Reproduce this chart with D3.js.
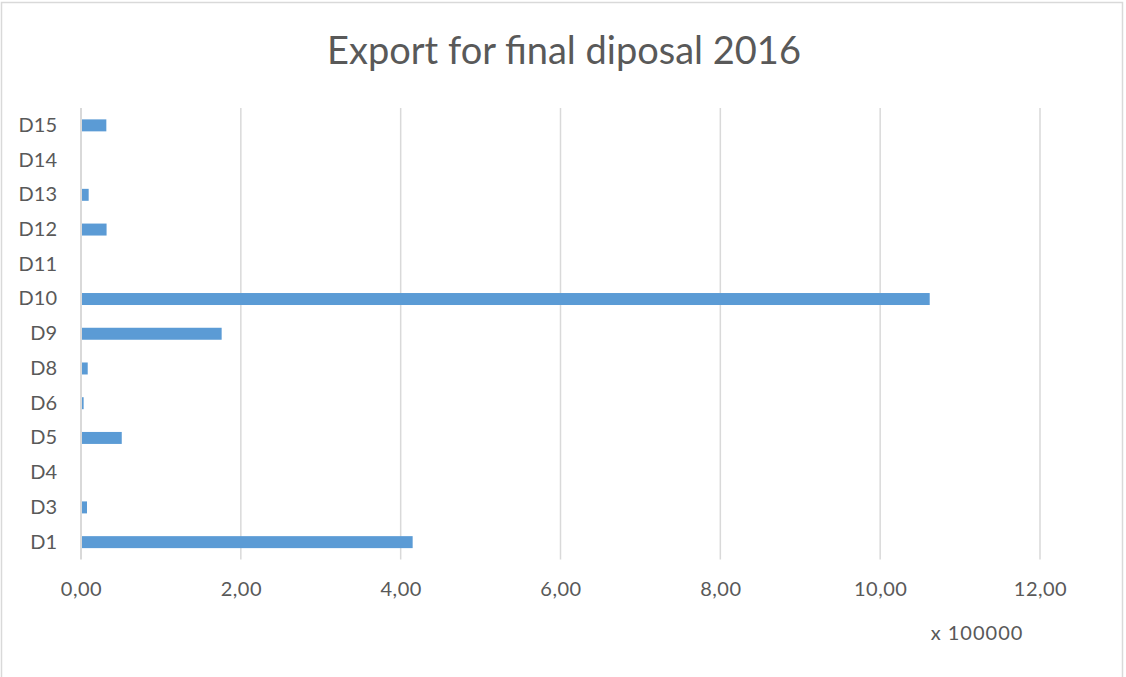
<!DOCTYPE html>
<html>
  <head>
    <style>
      body { margin: 0; background: #fff; }
      text { font-family: Lato, "Open Sans", sans-serif; fill: #595959; }
    </style>
    <script src="https://cdnjs.cloudflare.com/ajax/libs/d3/7.8.5/d3.min.js"></script>
  </head>
  <body>
    <div id="chart"></div>
    <script>
      const width = 1126;
      const height = 677;

      // data (tonnes, raw values)
      const categories = ["D1", "D3", "D4", "D5", "D6", "D8", "D9", "D10", "D11", "D12", "D13", "D14", "D15"];
      const values = [415000, 7500, 0, 51000, 3300, 8400, 176000, 1062000, 0, 32000, 9600, 600, 31700];
      const ticks = [0, 2, 4, 6, 8, 10, 12];
      const unit = 100000;

      const plotLeft = 81, plotRight = 1040, plotTop = 108, plotBottom = 559.5;

      const svg = d3.select("#chart")
        .append("svg")
        .attr("width", width)
        .attr("height", height);

      // chart frame
      svg.append("rect")
        .attr("x", 1.5).attr("y", 2.5)
        .attr("width", 1121).attr("height", 690)
        .attr("fill", "none")
        .attr("stroke", "#d9d9d9")
        .attr("stroke-width", 1.5);

      svg.append("text")
        .attr("x", 564)
        .attr("y", 64)
        .attr("text-anchor", "middle")
        .style("font-size", "38px")
        .style("font-weight", 400)
        .text("Export for final diposal 2016");

      var x = d3.scaleLinear().domain([0, 12]).range([plotLeft, plotRight]);
      var y = d3.scaleBand()
        .domain(categories.slice().reverse())
        .range([plotTop, plotBottom])
        .paddingInner(0.655)
        .paddingOuter(0.3275);

      // vertical gridlines
      svg.append("g")
        .selectAll("line")
        .data(ticks.slice(1))
        .enter()
        .append("line")
        .attr("x1", d => x(d)).attr("x2", d => x(d))
        .attr("y1", plotTop).attr("y2", plotBottom)
        .attr("stroke", "#d9d9d9")
        .attr("stroke-width", 1.5);

      // x axis labels
      var xAxis = d3.axisBottom(x)
        .tickValues(ticks)
        .tickSize(0)
        .tickPadding(0)
        .tickFormat(d => d3.format(".2f")(d).replace(".", ","));
      var gx = svg.append("g")
        .attr("transform", `translate(0, ${plotBottom + 22})`)
        .call(xAxis);
      gx.select(".domain").remove();
      gx.selectAll("text").style("font-size", "20px").style("letter-spacing", "0.5px").attr("fill", "#595959");

      // y axis labels
      var yAxis = d3.axisLeft(y).tickSize(0).tickPadding(24);
      var gy = svg.append("g")
        .attr("transform", `translate(${plotLeft}, 0)`)
        .call(yAxis);
      gy.select(".domain").remove();
      gy.selectAll("text").style("font-size", "20px").attr("fill", "#595959");

      // bars
      svg.append("g")
        .selectAll("rect")
        .data(categories)
        .enter()
        .append("rect")
        .attr("x", x(0))
        .attr("y", d => y(d))
        .attr("width", (d, i) => x(values[i] / unit) - x(0))
        .attr("height", y.bandwidth())
        .attr("fill", "#5b9bd5");

      // category axis line
      svg.append("line")
        .attr("x1", x(0)).attr("x2", x(0))
        .attr("y1", plotTop).attr("y2", plotBottom)
        .attr("stroke", "#d9d9d9")
        .attr("stroke-width", 2);

      svg.append("text")
        .attr("x", 977)
        .attr("y", 640)
        .attr("text-anchor", "middle")
        .style("font-size", "20px")
        .style("letter-spacing", "1px")
        .text("x 100000");
    </script>
  </body>
</html>
